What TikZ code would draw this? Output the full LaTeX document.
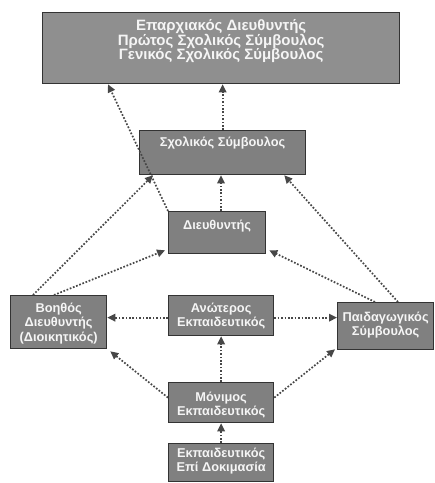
\documentclass[tikz,border=0pt]{standalone}
\usepackage{fontspec}
\setmainfont{Liberation Sans}
\usetikzlibrary{arrows.meta}
\newcommand{\boxtxt}[4]{\parbox[t][#2pt][t]{#1pt}{\centering\rule{0pt}{#3pt}#4}}
\begin{document}
\begin{tikzpicture}[x=1pt,y=-1pt,
    rank/.style={draw=black!80,line width=1.3pt,fill=black!50,text=black!4,
      font=\fontsize{12.8}{14.2}\selectfont\bfseries,inner sep=0pt,anchor=north west},
    link/.style={-{Triangle[length=8pt,width=7.5pt]},draw=black!72,line width=1.7pt,
      dash pattern=on 1.7pt off 1.7pt}]
  \useasboundingbox (0,0) rectangle (435,483);
  \node[rank,fill=black!44,font=\fontsize{15}{14.5}\selectfont\bfseries] (top) at (42,12) {\boxtxt{357}{71}{18}{Επαρχιακός Διευθυντής\\Πρώτος Σχολικός Σύμβουλος\\Γενικός Σχολικός Σύμβουλος}};
  \node[rank] (schol) at (139,130) {\boxtxt{166}{44}{16}{Σχολικός Σύμβουλος}};
  \node[rank] (dief) at (168,211) {\boxtxt{97}{42}{18}{Διευθυντής}};
  \node[rank] (voh) at (10,295) {\boxtxt{96}{53}{17}{Βοηθός\\Διευθυντής\\(Διοικητικός)}};
  \node[rank] (ano) at (168,295) {\boxtxt{105}{40}{17}{Ανώτερος\\Εκπαιδευτικός}};
  \node[rank] (paid) at (337,302) {\boxtxt{96}{47}{19}{Παιδαγωγικός\\Σύμβουλος}};
  \node[rank] (mon) at (168,382) {\boxtxt{105}{40}{19}{Μόνιμος\\Εκπαιδευτικός}};
  \node[rank] (dok) at (168,443) {\boxtxt{105}{38}{14}{Εκπαιδευτικός\\Επί Δοκιμασία}};
  \begin{scope}[link]
    \draw (schol.north) -- (schol.north |- top.south);
    \draw (dief.north west) -- ([xshift=66pt]top.south west);
    \draw ([xshift=53pt]dief.north west) -- ([xshift=53pt]dief.north west |- schol.south);
    \draw ([xshift=23pt]voh.north west) -- ([xshift=14pt]schol.south west);
    \draw ([xshift=44pt]voh.north west) -- ([shift={(-3pt,4pt)}]dief.south west);
    \draw ([xshift=38pt]paid.north west) -- ([shift={(3pt,4pt)}]dief.south east);
    \draw ([xshift=61pt]paid.north west) -- ([xshift=-22pt]schol.south east);
    \draw ([yshift=-2pt]ano.west) -- ([yshift=-2pt]ano.west -| voh.east);
    \draw ([yshift=-2pt]ano.east) -- ([yshift=-2pt]ano.east -| paid.west);
    \draw (mon.north) -- (ano.south);
    \draw ([yshift=5pt]mon.west) -- ([shift={(3pt,-2pt)}]voh.south east);
    \draw ([yshift=5pt]mon.east) -- ([shift={(-2pt,1pt)}]paid.south west);
    \draw (dok.north) -- (mon.south);
  \end{scope}
\end{tikzpicture}
\end{document}
